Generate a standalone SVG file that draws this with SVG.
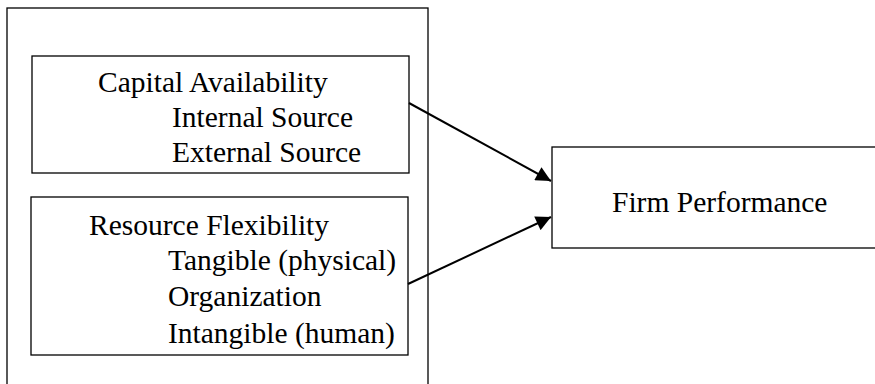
<svg xmlns="http://www.w3.org/2000/svg" width="875" height="384" viewBox="0 0 875 384">
<style>
.box{fill:#fff;stroke:#000;stroke-width:1.3}
.t{font-family:"Liberation Serif","Times New Roman",serif;font-size:29.5px;fill:#000}
.c{stroke:#000;stroke-width:2;fill:none}
</style>
<defs>
<marker id="ah" viewBox="0 0 10 10" refX="10" refY="5" markerWidth="8.5" markerHeight="7.5" markerUnits="strokeWidth" orient="auto">
<path d="M0,0 L10,5 L0,10 z" fill="#000"/>
</marker>
</defs>
<rect width="875" height="384" fill="#fff"/>
<g id="outer"><rect class="box" x="7" y="8" width="421" height="390"/></g>
<g id="capital">
<rect class="box" x="32" y="56" width="377" height="117"/>
<text class="t" x="98" y="92">Capital Availability</text>
<text class="t" x="172" y="127">Internal Source</text>
<text class="t" x="172" y="162">External Source</text>
</g>
<g id="resource">
<rect class="box" x="31" y="197" width="377" height="158"/>
<text class="t" x="89" y="235">Resource Flexibility</text>
<text class="t" x="168" y="270">Tangible (physical)</text>
<text class="t" x="168" y="306">Organization</text>
<text class="t" x="168" y="343">Intangible (human)</text>
</g>
<g id="firm">
<rect class="box" x="552" y="147" width="340" height="101"/>
<text class="t" x="612" y="212">Firm Performance</text>
</g>
<g id="connectors">
<line class="c" x1="409" y1="103" x2="551" y2="181" marker-end="url(#ah)"/>
<line class="c" x1="408" y1="284" x2="551" y2="217" marker-end="url(#ah)"/>
</g>
</svg>
